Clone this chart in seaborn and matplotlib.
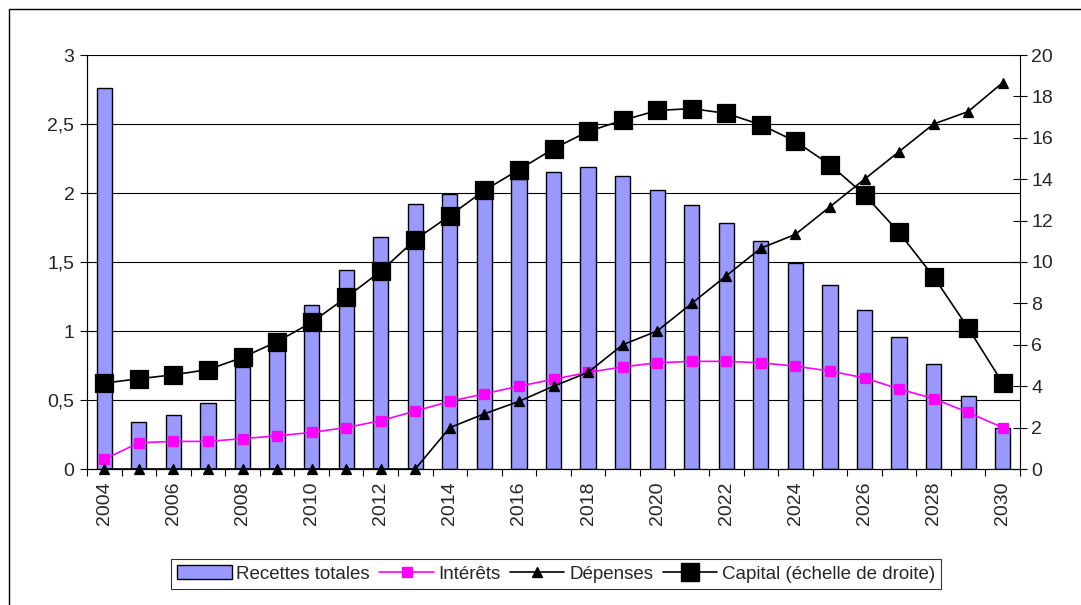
import matplotlib
matplotlib.use("Agg")
import matplotlib.pyplot as plt
from matplotlib.lines import Line2D
from matplotlib.patches import Patch, Rectangle
from matplotlib.ticker import FixedLocator, FuncFormatter
import numpy as np
import pandas as pd
import seaborn as sns

# valeurs
years = [str(y) for y in range(2004, 2031)]
recettes = [2.76, 0.34, 0.39, 0.48, 0.74, 0.96, 1.19, 1.44, 1.68, 1.92,
            1.99, 2.05, 2.10, 2.15, 2.19, 2.12, 2.02, 1.91, 1.78, 1.65,
            1.49, 1.33, 1.15, 0.96, 0.76, 0.53, 0.30]
interets = [0.07, 0.19, 0.20, 0.20, 0.22, 0.24, 0.265, 0.30, 0.35, 0.42,
            0.49, 0.545, 0.60, 0.65, 0.70, 0.74, 0.77, 0.78, 0.78, 0.77,
            0.745, 0.71, 0.66, 0.58, 0.51, 0.41, 0.30]
depenses = [0, 0, 0, 0, 0, 0, 0, 0, 0, 0,
            0.30, 0.40, 0.49, 0.60, 0.70, 0.90, 1.00, 1.20, 1.40, 1.60,
            1.70, 1.90, 2.10, 2.30, 2.50, 2.59, 2.80]
capital = [4.15, 4.36, 4.55, 4.80, 5.39, 6.15, 7.08, 8.29, 9.55, 11.08,
           12.24, 13.46, 14.46, 15.47, 16.31, 16.84, 17.32, 17.41, 17.18, 16.63,
           15.83, 14.70, 13.25, 11.43, 9.29, 6.81, 4.15]

df = pd.DataFrame({"annee": years, "recettes": recettes, "interets": interets,
                   "depenses": depenses, "capital": capital})

sns.set_theme(style="white")
plt.rcParams["font.family"] = ["Liberation Sans", "DejaVu Sans"]

fig = plt.figure(figsize=(10.81, 6.05), dpi=100)
ax = fig.add_axes([87 / 1081, 1 - 469 / 605, (1020 - 87) / 1081, (469 - 55) / 605])

bar_color = "#9999FF"
sns.barplot(data=df, x="annee", y="recettes", ax=ax, color=bar_color,
            edgecolor="black", linewidth=1.0, width=0.44, saturation=1, zorder=2)
sns.pointplot(data=df, x="annee", y="interets", ax=ax, color="#FF00FF",
              markers="s", markersize=7, linewidth=1.2, errorbar=None, zorder=4)
sns.pointplot(data=df, x="annee", y="depenses", ax=ax, color="black",
              markers="^", markersize=7.5, linewidth=1.2, errorbar=None, zorder=4)
for ln in ax.lines:
    ln.set_clip_on(False)

ax2 = ax.twinx()
sns.pointplot(data=df, x="annee", y="capital", ax=ax2, color="black",
              markers="s", markersize=12.5, linewidth=1.2, errorbar=None, zorder=5)

n = len(years)
for a in (ax, ax2):
    a.set_xlim(-0.5, n - 0.5)
    a.set_xlabel("")
    a.set_ylabel("")

ax.set_ylim(0, 3)
ax2.set_ylim(0, 20)

# grille horizontale
for v in np.arange(0.5, 3.01, 0.5):
    ax.axhline(v, color="black", linewidth=0.8, zorder=1)

ax.yaxis.set_major_locator(FixedLocator(np.arange(0, 3.01, 0.5)))
ax.yaxis.set_major_formatter(FuncFormatter(
    lambda v, p: ("%g" % v).replace(".", ",")))
ax2.yaxis.set_major_locator(FixedLocator(range(0, 21, 2)))

ax.set_xticks(range(0, n, 2))
ax.set_xticklabels(years[::2], rotation=90)
ax.set_xticks(np.arange(-0.5, n, 1.0), minor=True)
ax.tick_params(axis="x", which="major", length=0, pad=9, labelsize=14)
ax.tick_params(axis="x", which="minor", length=5, width=0.8, color="black",
               direction="out", bottom=True)
ax.tick_params(axis="y", length=5, width=0.8, color="black", direction="out",
               left=True, labelsize=14, pad=4)
ax2.tick_params(axis="y", length=10, width=0.8, color="black", direction="inout",
                right=True, labelsize=14, pad=3)
ax2.tick_params(axis="x", length=0)

for a in (ax, ax2):
    a.spines["top"].set_visible(False)
    for side in ("left", "right", "bottom"):
        a.spines[side].set_color("black")
        a.spines[side].set_linewidth(0.8)
ax.spines["right"].set_visible(False)

handles = [
    Patch(facecolor=bar_color, edgecolor="black", linewidth=1.0),
    Line2D([], [], color="#FF00FF", marker="s", markersize=7, linewidth=1.2),
    Line2D([], [], color="black", marker="^", markersize=7.5, linewidth=1.2),
    Line2D([], [], color="black", marker="s", markersize=12.5, linewidth=1.2),
]
labels = ["Recettes totales", "Intérêts", "Dépenses", "Capital (échelle de droite)"]
leg = fig.legend(handles, labels, loc="center", bbox_to_anchor=(556 / 1081, 1 - 574 / 605),
                 ncol=4, frameon=True, fancybox=False, fontsize=13.5,
                 handlelength=2.9, handletextpad=0.25, columnspacing=0.5,
                 borderpad=0.35, borderaxespad=0)
leg.get_frame().set_edgecolor("black")
leg.get_frame().set_linewidth(0.8)

# cadre extérieur du graphique
fig.add_artist(Rectangle((9 / 1081, -0.1), 1.2, 1.1 - 9 / 605, transform=fig.transFigure,
                         fill=False, edgecolor="black", linewidth=1.0))

fig.savefig("out.png", dpi=100)
